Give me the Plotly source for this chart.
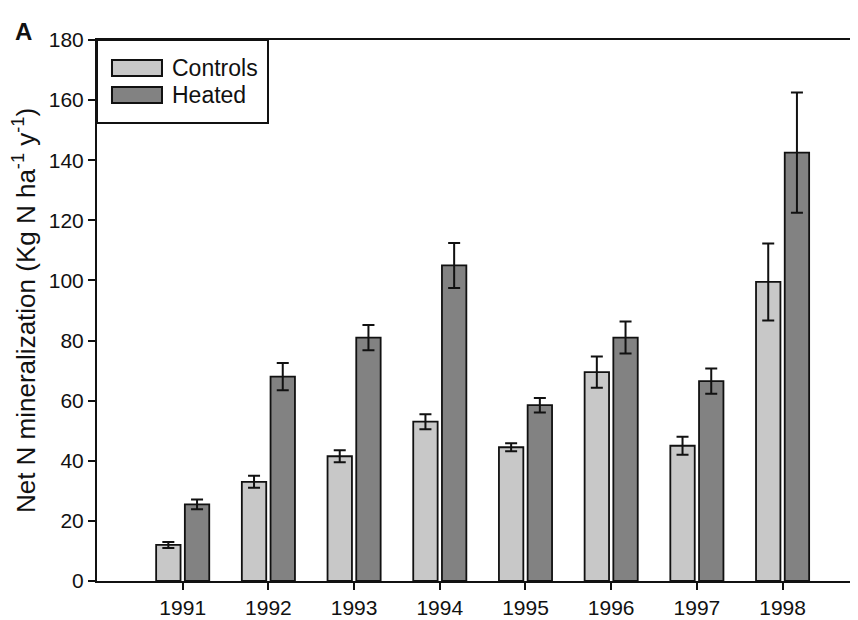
import plotly.graph_objects as go

years = ["1991", "1992", "1993", "1994", "1995", "1996", "1997", "1998"]
controls = [12, 33, 41.5, 53, 44.5, 69.5, 45, 99.5]
controls_err = [1, 2, 2, 2.5, 1.3, 5.2, 3, 12.8]
heated = [25.5, 68, 81, 105, 58.5, 81, 66.5, 142.5]
heated_err = [1.6, 4.5, 4.2, 7.5, 2.4, 5.3, 4.2, 20]
y_ticks = [0, 20, 40, 60, 80, 100, 120, 140, 160, 180]

FONT = "Liberation Sans, Arial, Helvetica, sans-serif"
C_CTRL = "#c8c8c8"
C_HEAT = "#828282"
INK = "#111111"

fig = go.Figure()
fig.add_trace(go.Bar(
    x=years, y=controls, name="Controls",
    marker=dict(color=C_CTRL, line=dict(color=INK, width=1.8)),
    error_y=dict(type="data", array=controls_err, visible=True,
                 color=INK, thickness=2, width=6),
))
fig.add_trace(go.Bar(
    x=years, y=heated, name="Heated",
    marker=dict(color=C_HEAT, line=dict(color=INK, width=1.8)),
    error_y=dict(type="data", array=heated_err, visible=True,
                 color=INK, thickness=2, width=6),
))

# page has an 8px body margin: figure is sized/offset to compensate
fig.update_layout(
    width=850, height=612,
    margin=dict(l=89, r=0, t=32, b=39),
    paper_bgcolor="white", plot_bgcolor="white",
    barmode="group", bargap=0.33, bargroupgap=0.15,
    showlegend=False,
    font=dict(family=FONT, size=21, color=INK),
)
fig.update_xaxes(
    type="category", range=[-1, 7.88],
    showline=True, linecolor=INK, linewidth=2, mirror=True,
    ticks="outside", ticklen=7, tickwidth=2, tickcolor=INK,
    showgrid=False, zeroline=False,
    tickfont=dict(family=FONT, size=21, color=INK),
)
fig.update_yaxes(
    range=[0, 180], tickvals=y_ticks,
    showline=True, linecolor=INK, linewidth=2,
    ticks="outside", ticklen=7, tickwidth=2, tickcolor=INK,
    showgrid=False, zeroline=False,
    tickfont=dict(family=FONT, size=21, color=INK),
    title=dict(text="Net N mineralization (Kg N ha<sup>-1</sup> y<sup>-1</sup>)",
               font=dict(family=FONT, size=26, color=INK), standoff=10),
)

# Legend box drawn in paper coordinates
fig.add_shape(type="rect", xref="paper", yref="paper",
              x0=0, x1=0.2247, y0=0.8466, y1=1,
              line=dict(color=INK, width=2), fillcolor="white", layer="above")
legend_items = [("Controls", C_CTRL, 0.963, 0.9335), ("Heated", C_HEAT, 0.9131, 0.8835)]
for label, col, y1, y0 in legend_items:
    fig.add_shape(type="rect", xref="paper", yref="paper",
                  x0=0.0197, x1=0.0854, y0=y0, y1=y1,
                  line=dict(color=INK, width=2), fillcolor=col, layer="above")
    fig.add_annotation(xref="paper", yref="paper", x=0.0959, y=(y0 + y1) / 2,
                       text=label, showarrow=False, xanchor="left", yanchor="middle",
                       font=dict(family=FONT, size=23, color=INK))

fig.add_annotation(xref="paper", yref="paper", x=-0.110, y=1.0166,
                   text="<b>A</b>", showarrow=False, xanchor="left", yanchor="middle",
                   font=dict(family=FONT, size=24, color=INK))

fig.write_html("out.html")
